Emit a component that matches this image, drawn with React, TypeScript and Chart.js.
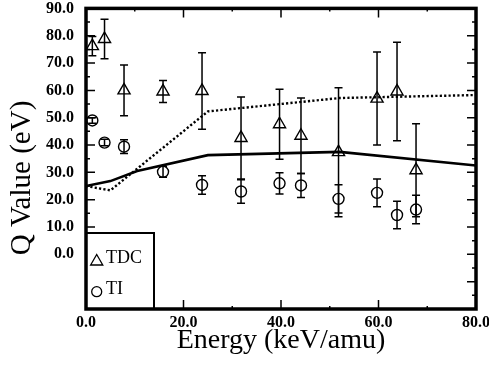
import React, { useEffect, useRef } from 'react';
import { Chart, registerables } from 'chart.js';

Chart.register(...registerables);

// Projectile energies (keV/amu) shared by both measured series
const energy = [1.3, 3.8, 7.8, 15.8, 23.8, 31.8, 39.7, 44.1, 51.8, 59.7, 63.8, 67.7];

// TDC: Q value (eV) and its uncertainty
const tdcQ = [76.2, 78.8, 60.0, 59.6, 59.8, 42.6, 47.6, 43.4, 37.4, 57.0, 59.6, 30.8];
const tdcErr = [3.5, 7.2, 9.3, 4.0, 14.0, 15.0, 12.8, 13.8, 23.6, 17.0, 18.0, 17.0];

// TI: Q value (eV) and its uncertainty
const tiQ = [49.0, 40.9, 39.4, 30.2, 25.4, 23.0, 26.0, 25.2, 20.3, 22.5, 14.4, 16.4];
const tiErr = [1.0, 1.2, 2.5, 2.0, 3.4, 4.3, 3.9, 4.4, 5.2, 5.1, 5.0, 5.2];

// Calculated curves
const solidE = [0, 5, 10.5, 25, 52, 80];
const solidQ = [25.0, 26.8, 30.5, 36.3, 37.5, 32.5];
const dottedE = [0, 5, 25, 52, 80];
const dottedQ = [25.0, 23.4, 52.3, 57.2, 58.3];

// Axis extents and tick spacing
const xRange = [0, 80];
const yRange = [-20, 90];
const xStep = 20;
const yStep = 10;

const legendItems = ['TDC', 'TI'];
const xTitle = 'Energy (keV/amu)';
const yTitle = 'Q Value (eV)';

const SERIF = '"Liberation Serif", "Times New Roman", serif';

const toPoints = (xs: number[], ys: number[]) => xs.map((x, i) => ({ x, y: ys[i] }));

const frameAndDecor = {
  id: 'frameAndDecor',
  afterDatasetsDraw(chart: any) {
    const { ctx, scales } = chart;
    const ys = scales.y;
    const errs = [tdcErr, tiErr];
    ctx.save();
    ctx.strokeStyle = '#000';
    ctx.lineWidth = 1.5;
    [0, 1].forEach((di) => {
      const meta = chart.getDatasetMeta(di);
      meta.data.forEach((pt: any, i: number) => {
        const v = chart.data.datasets[di].data[i].y;
        const e = errs[di][i];
        const top = ys.getPixelForValue(v + e);
        const bot = ys.getPixelForValue(v - e);
        const x = pt.x;
        ctx.beginPath();
        ctx.moveTo(x, top);
        ctx.lineTo(x, bot);
        ctx.moveTo(x - 4, top);
        ctx.lineTo(x + 4, top);
        ctx.moveTo(x - 4, bot);
        ctx.lineTo(x + 4, bot);
        ctx.stroke();
      });
    });
    ctx.restore();
  },
  afterDraw(chart: any) {
    const { ctx, chartArea, scales } = chart;
    const { left, right, top, bottom } = chartArea;
    const xs = scales.x;
    const ys = scales.y;
    ctx.save();
    ctx.strokeStyle = '#000';
    ctx.fillStyle = '#000';

    // inward tick marks
    ctx.lineWidth = 1.5;
    ctx.beginPath();
    for (let v = yRange[0]; v <= yRange[1]; v += yStep / 2) {
      const y = ys.getPixelForValue(v);
      const len = v % yStep === 0 ? 9 : 4;
      ctx.moveTo(left, y);
      ctx.lineTo(left + len, y);
      ctx.moveTo(right, y);
      ctx.lineTo(right - len, y);
    }
    for (let v = xRange[0]; v <= xRange[1]; v += xStep / 2) {
      const x = xs.getPixelForValue(v);
      const len = v % xStep === 0 ? 9 : 3;
      ctx.moveTo(x, bottom);
      ctx.lineTo(x, bottom - len);
      ctx.moveTo(x, top);
      ctx.lineTo(x, top + len);
    }
    ctx.stroke();

    // legend box inside the lower-left corner
    const lx0 = left;
    const lx1 = left + 68;
    const ly0 = 233;
    ctx.fillStyle = '#fff';
    ctx.fillRect(lx0, ly0, lx1 - lx0, bottom - ly0);
    ctx.lineWidth = 2;
    ctx.strokeRect(lx0, ly0, lx1 - lx0, bottom - ly0);
    ctx.fillStyle = '#000';
    ctx.lineWidth = 1.3;
    // triangle symbol
    const tx = left + 10.7;
    const ty = 261.5;
    const r = 7;
    ctx.beginPath();
    ctx.moveTo(tx, ty - r);
    ctx.lineTo(tx + r * 0.866, ty + r / 2);
    ctx.lineTo(tx - r * 0.866, ty + r / 2);
    ctx.closePath();
    ctx.stroke();
    // circle symbol
    ctx.beginPath();
    ctx.arc(tx, 291.7, 5, 0, Math.PI * 2);
    ctx.stroke();
    ctx.font = `18px ${SERIF}`;
    ctx.textAlign = 'left';
    ctx.textBaseline = 'alphabetic';
    ctx.fillText(legendItems[0], left + 20, 262.5);
    ctx.fillText(legendItems[1], left + 20, 293.5);

    // heavy frame
    ctx.lineWidth = 3.5;
    ctx.strokeRect(left, top, right - left, bottom - top);

    // axis titles
    ctx.font = `28px ${SERIF}`;
    ctx.textAlign = 'center';
    ctx.fillText(xTitle, (left + right) / 2, 348);
    ctx.font = `29px ${SERIF}`;
    ctx.translate(30, 178);
    ctx.rotate(-Math.PI / 2);
    ctx.fillText(yTitle, 0, 0);
    ctx.restore();
  },
};

// keep tick-label overflow from shrinking the plot area
const noOverflow = (s: any) => {
  s.paddingLeft = 0;
  s.paddingRight = 0;
  s.paddingTop = 0;
  s.paddingBottom = 0;
};

export default function App() {
  const ref = useRef<HTMLCanvasElement | null>(null);

  useEffect(() => {
    if (!ref.current) return;
    const tickFont = { family: SERIF, size: 16, weight: 'bold' as const };
    const chart = new Chart(ref.current, {
      type: 'scatter',
      data: {
        datasets: [
          {
            label: legendItems[0],
            data: toPoints(energy, tdcQ),
            pointStyle: 'triangle',
            pointRadius: 7,
            pointBorderWidth: 1.4,
            borderColor: '#000',
            backgroundColor: 'rgba(0,0,0,0)',
            order: 0,
          },
          {
            label: legendItems[1],
            data: toPoints(energy, tiQ),
            pointStyle: 'circle',
            pointRadius: 5.5,
            pointBorderWidth: 1.4,
            borderColor: '#000',
            backgroundColor: 'rgba(0,0,0,0)',
            order: 0,
          },
          {
            type: 'line',
            label: 'solid',
            data: toPoints(solidE, solidQ),
            borderColor: '#000',
            borderWidth: 2.6,
            pointRadius: 0,
            tension: 0,
            fill: false,
            order: 1,
          },
          {
            type: 'line',
            label: 'dotted',
            data: toPoints(dottedE, dottedQ),
            borderColor: '#000',
            borderWidth: 2.4,
            borderDash: [2.2, 2.2],
            pointRadius: 0,
            tension: 0,
            fill: false,
            order: 1,
          },
        ],
      },
      options: {
        animation: false,
        responsive: false,
        layout: { padding: { left: 0, right: 13, top: 5, bottom: 0 } },
        plugins: {
          legend: { display: false },
          tooltip: { enabled: false },
        },
        scales: {
          x: {
            type: 'linear',
            min: xRange[0],
            max: xRange[1],
            grid: { display: false, drawTicks: false, tickLength: 0 },
            border: { display: false },
            ticks: {
              stepSize: xStep,
              color: '#000',
              font: tickFont,
              padding: 4,
              maxRotation: 0,
              callback: (v: any) => Number(v).toFixed(1),
            },
            afterFit: (s: any) => {
              s.height = 57;
              noOverflow(s);
            },
          },
          y: {
            type: 'linear',
            min: yRange[0],
            max: yRange[1],
            grid: { display: false, drawTicks: false, tickLength: 0 },
            border: { display: false },
            ticks: {
              stepSize: yStep,
              color: '#000',
              font: tickFont,
              padding: 12,
              callback: (v: any) => (Number(v) >= 0 ? Number(v).toFixed(1) : ''),
            },
            afterFit: (s: any) => {
              s.width = 86;
              noOverflow(s);
            },
          },
        },
      },
      plugins: [frameAndDecor],
    });
    return () => chart.destroy();
  }, []);

  return (
    <div style={{ position: 'fixed', left: 0, top: 0, width: 489, height: 366, background: '#fff' }}>
      <canvas ref={ref} width={489} height={366} />
    </div>
  );
}
